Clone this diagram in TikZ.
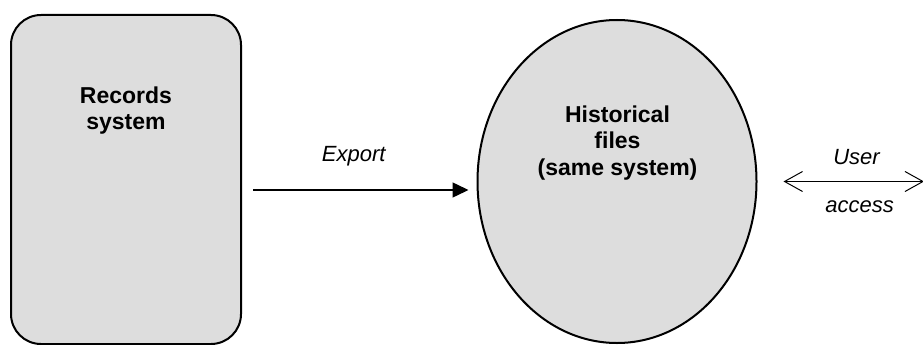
\documentclass[tikz,border=0pt]{standalone}
\usepackage{fontspec}
\setmainfont{Liberation Sans}
\usetikzlibrary{arrows.meta,positioning,shapes.geometric}

\definecolor{fillgray}{RGB}{221,221,221}

\tikzset{
    recbox/.style={draw, line width=2pt, fill=fillgray, rounded corners=30pt,
        minimum width=230pt, minimum height=329pt, inner sep=0pt},
    histell/.style={draw, ellipse, line width=2pt, fill=fillgray,
        minimum width=279pt, minimum height=323pt, inner sep=0pt},
    title/.style={align=center, inner sep=0pt, font=\fontsize{23}{26.5}\selectfont\bfseries},
    lbl/.style={inner sep=0pt, font=\fontsize{22}{26}\selectfont\itshape},
    flow/.style={-{Triangle[length=16pt,width=15pt]}, line width=1.5pt},
    access/.style={{Straight Barb[length=18pt,width=20pt]}-{Straight Barb[length=18pt,width=20pt]}, line width=1pt},
}

\begin{document}
\begin{tikzpicture}[x=1pt,y=-1pt]
\useasboundingbox (0,0) rectangle (923,345);

\node[recbox] at (126,179.5) (rec) {};
\node[histell] at (617,181.5) (hist) {};
\node[title] at (126,110.6) (rectxt) {Records\\system};
\node[title] at (617.5,142.7) (histtxt) {Historical\\files\\(same system)};

\coordinate (usr) at (924,181.5);

\draw[flow, shorten <=11pt, shorten >=8pt] ([yshift=-10.5pt]rec.east) --
    node[lbl, above=23.4pt, xshift=-5.5pt] (exp) {Export} ([yshift=-8.5pt]hist.west);
\draw[access, shorten <=26pt] (hist.east) --
    node[lbl, above=16.7pt, pos=.595] (user) {User}
    node[lbl, below=18.6pt, pos=.613] (acc) {access} (usr);
\end{tikzpicture}
\end{document}
